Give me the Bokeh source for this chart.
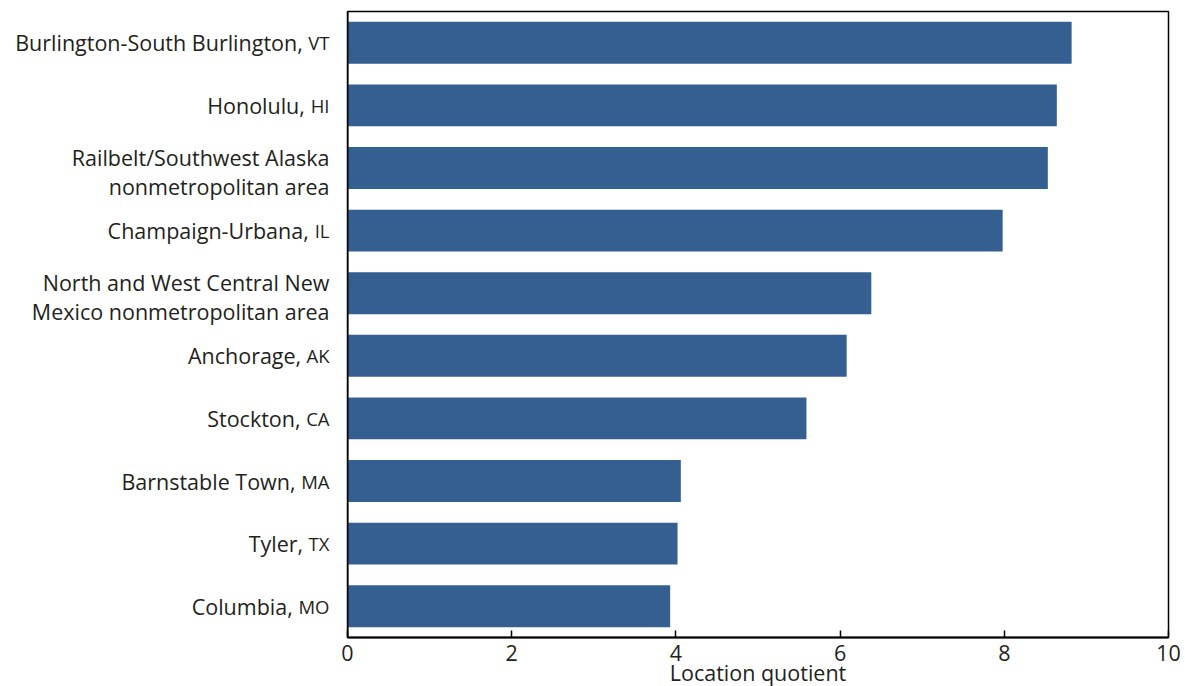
from bokeh.plotting import figure
from bokeh.layouts import row, column
from bokeh.models import ColumnDataSource, Range1d, FactorRange, FixedTicker, Span
from bokeh.core.properties import value
from bokeh.embed import file_html
from bokeh.resources import INLINE

# ---- data ----
areas = [
    "Burlington-South Burlington,",
    "Honolulu,",
    "Railbelt/Southwest Alaska\nnonmetropolitan area",
    "Champaign-Urbana,",
    "North and West Central New\nMexico nonmetropolitan area",
    "Anchorage,",
    "Stockton,",
    "Barnstable Town,",
    "Tyler,",
    "Columbia,",
]
states = ["VT", "HI", "", "IL", "", "AK", "CA", "MA", "TX", "MO"]
quotients = [8.82, 8.64, 8.53, 7.98, 6.38, 6.08, 5.59, 4.06, 4.02, 3.93]
x_ticks = [0, 2, 4, 6, 8, 10]
x_title = "Location quotient"

# ---- style ----
FONT = "Open Sans"
MAIN_PX = 21.5
ABBR_PX = 18.5
TEXT_COLOR = "#231f20"
BAR_COLOR = "#365f91"
GAP = 18
W = 1185
TOP = 11
FRAME_BOTTOM = 637
H_TOP = FRAME_BOTTOM + 2
H_BOTTOM = 686 - H_TOP
LEFT_W = 340
PAD = 7
AXIS_L = LEFT_W + PAD      # pixel of value 0
AXIS_R = 1168              # pixel of value 10
RIGHT_W = W - LEFT_W
TICK_OFF = 13              # tick-label offset inside bottom strip
TITLE_OFF = 33             # axis-title offset inside bottom strip
# approximate Open Sans advance widths (em) for the abbreviation letters
EM = {"A": 0.633, "C": 0.631, "H": 0.738, "I": 0.291, "K": 0.596, "L": 0.528,
      "M": 0.903, "O": 0.781, "T": 0.556, "V": 0.589, "X": 0.569}
SPACE_EM = 0.26

keys = [f"{a} {s}".strip() for a, s in zip(areas, states)]
yr = FactorRange(*reversed(keys), range_padding=0)
x_lo, x_hi = x_ticks[0], x_ticks[-1]


def bare(f):
    f.xaxis.visible = False
    f.yaxis.visible = False
    f.xgrid.visible = False
    f.ygrid.visible = False
    f.outline_line_color = None
    f.border_fill_color = "white"


# ---------------- bar panel ----------------
src = ColumnDataSource(dict(key=keys, q=quotients))
p = figure(width=RIGHT_W, height=H_TOP, output_backend="svg",
           toolbar_location=None, x_range=Range1d(x_lo, x_hi), y_range=yr,
           min_border_left=PAD, min_border_right=W - AXIS_R,
           min_border_top=TOP, min_border_bottom=H_TOP - FRAME_BOTTOM)
p.hbar(y="key", right="q", height=0.67, source=src, fill_color=BAR_COLOR,
       line_color=None)
p.xgrid.visible = False
p.ygrid.visible = False
p.yaxis.visible = False
p.outline_line_color = "black"
p.outline_line_width = 1.5
p.outline_line_alpha = 1
p.border_fill_color = "white"
p.add_layout(Span(location=0, dimension="height", line_color="black",
                  line_width=2))

ax = p.xaxis[0]
ax.ticker = FixedTicker(ticks=x_ticks)
ax.axis_line_color = "black"
ax.axis_line_width = 2
ax.major_tick_in = 7
ax.major_tick_out = 0
ax.major_tick_line_width = 1.5
ax.major_tick_line_color = "black"
ax.minor_tick_line_color = None
ax.major_label_standoff = 0
ax.major_label_text_font_size = "0px"
ax.major_label_text_color = None

# ---------------- label panel ----------------
lp = figure(width=LEFT_W, height=H_TOP, output_backend="svg",
            toolbar_location=None, x_range=Range1d(0, 1), y_range=yr,
            min_border_left=0, min_border_right=0, min_border_top=TOP,
            min_border_bottom=H_TOP - FRAME_BOTTOM)
bare(lp)

name_off, abbr_off, y_off = [], [], []
for a, s in zip(areas, states):
    w = sum(EM[c] for c in s) * ABBR_PX
    abbr_off.append(PAD - GAP)
    name_off.append(PAD - (GAP + w + (SPACE_EM * MAIN_PX if s else 0)))
    y_off.append(4 if "\n" in a else 0)

lab_src = ColumnDataSource(dict(x=[1] * len(keys), y=keys, name=areas,
                                abbr=states, noff=name_off, aoff=abbr_off,
                                yoff=y_off))
lp.text(x="x", y="y", text="name", x_offset="noff", y_offset="yoff",
        source=lab_src, text_align="right", text_baseline="middle",
        text_font=value(FONT), text_font_size=f"{MAIN_PX}px",
        text_color=TEXT_COLOR, text_line_height=0.98)
lp.text(x="x", y="y", text="abbr", x_offset="aoff", y_offset="yoff",
        source=lab_src, text_align="right", text_baseline="middle",
        text_font=value(FONT), text_font_size=f"{ABBR_PX}px",
        text_color=TEXT_COLOR)

# ---------------- bottom strip: tick labels + axis title ----------------
px_per_unit = (AXIS_R - AXIS_L) / (x_hi - x_lo)
bp = figure(width=W, height=H_BOTTOM, output_backend="svg",
            toolbar_location=None,
            x_range=Range1d(x_lo - AXIS_L / px_per_unit,
                            x_hi + (W - AXIS_R) / px_per_unit),
            y_range=Range1d(0, 1),
            min_border_left=0, min_border_right=0, min_border_top=0,
            min_border_bottom=0)
bare(bp)

tick_src = ColumnDataSource(dict(x=x_ticks, y=[1] * len(x_ticks),
                                 t=[str(t) for t in x_ticks]))
bp.text(x="x", y="y", text="t", source=tick_src, y_offset=TICK_OFF,
        text_align="center", text_baseline="alphabetic",
        text_font=value(FONT), text_font_size=f"{MAIN_PX}px",
        text_color=TEXT_COLOR)
title_src = ColumnDataSource(dict(x=[(x_lo + x_hi) / 2], y=[1], t=[x_title]))
bp.text(x="x", y="y", text="t", source=title_src, y_offset=TITLE_OFF,
        text_align="center", text_baseline="alphabetic",
        text_font=value(FONT), text_font_size=f"{MAIN_PX}px",
        text_color=TEXT_COLOR)

layout = column(row(lp, p, spacing=0), bp, spacing=0)
open("out.html", "w").write(file_html(layout, INLINE))
